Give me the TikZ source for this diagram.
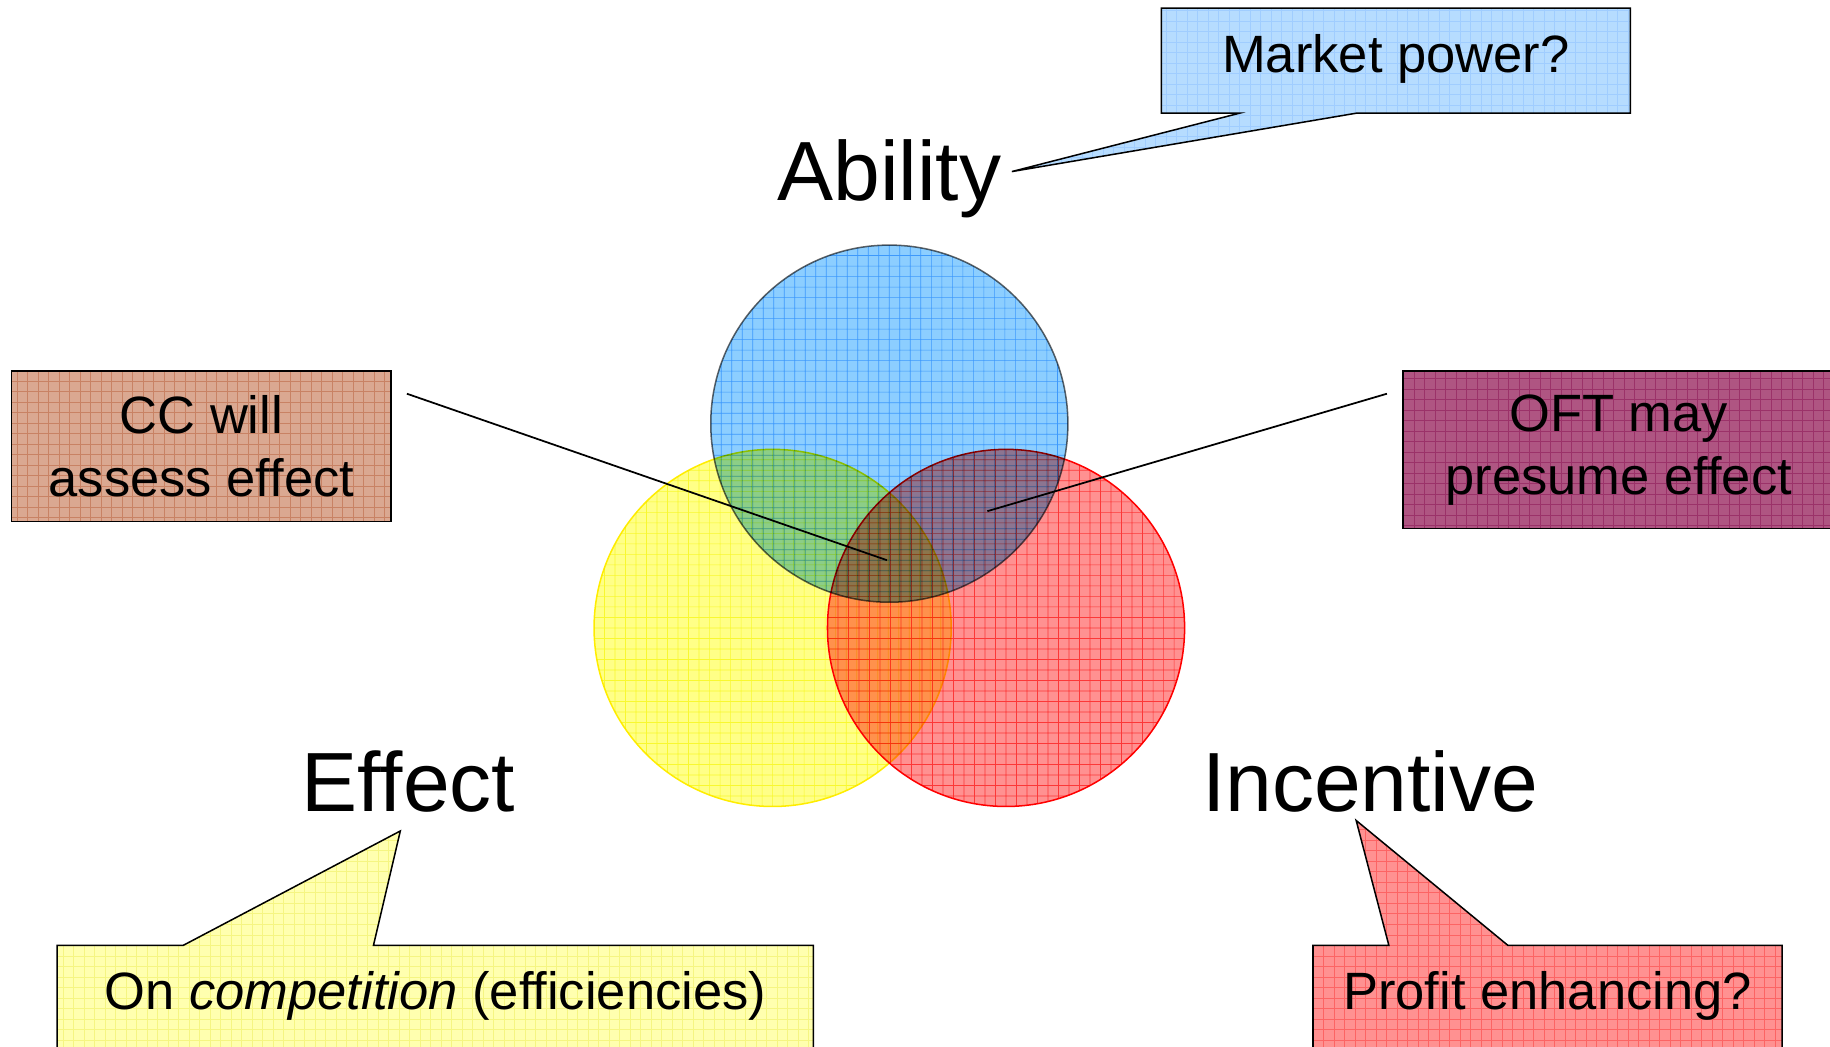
\documentclass[tikz,border=0pt]{standalone}
\usepackage{fontspec}
\setmainfont{Liberation Sans}
\usetikzlibrary{calc}
\definecolor{bluefill}{RGB}{140,206,255}
\definecolor{blueline}{RGB}{112,190,252}
\definecolor{yelfill}{RGB}{255,255,135}
\definecolor{yelline}{RGB}{248,248,90}
\definecolor{redfill}{RGB}{255,145,145}
\definecolor{redline}{RGB}{252,100,100}
\definecolor{mpfill}{RGB}{182,220,255}
\definecolor{mpline}{RGB}{160,205,255}
\definecolor{ccfill}{RGB}{218,168,145}
\definecolor{ccline}{RGB}{200,130,100}
\definecolor{oftfill}{RGB}{175,85,130}
\definecolor{oftline}{RGB}{155,50,105}
\definecolor{effill}{RGB}{255,255,175}
\definecolor{efline}{RGB}{245,245,130}
\tikzset{
  gridded/.style 2 args={fill=#1, path picture={\draw[#2, line width=0.6pt, step=9pt]
      (path picture bounding box.south west) grid (path picture bounding box.north east);}},
  venn/.style={circle, minimum size=306pt, inner sep=0pt, line width=1.3pt},
  big/.style={font=\fontsize{72}{80}\selectfont, inner sep=0pt, anchor=base},
  txt/.style={font=\fontsize{45}{54}\selectfont, inner sep=0pt, align=center},
  box/.style={draw=black, line width=1.3pt},
  link/.style={draw=black, line width=1.5pt},
}
\begin{document}
\begin{tikzpicture}[x=1pt, y=-1pt]
\useasboundingbox (0,0) rectangle (1568,897);
\clip (0,0) rectangle (1568,897);

% Venn circles
\begin{scope}[blend group=multiply]
  \node[venn, draw=black!60, gridded={bluefill}{blueline}] (abil) at (762,363) {};
  \node[venn, draw=red, gridded={redfill}{redline}] (inc) at (862,538) {};
  \node[venn, draw=yellow!95!orange, gridded={yelfill}{yelline}] (eff) at (662,538) {};
\end{scope}

% Big labels
\node[big] (ability) at (762,172) {Ability};
\node[big] (effect) at (350,695) {Effect};
\node[big] (incentive) at (1174,695) {Incentive};

% Market power callout
\path[box, gridded={mpfill}{mpline}] (995,7) -- (1397,7) -- (1397,97) -- (1162,97) -- (867,147) -- (1062,97) -- (995,97) -- cycle;
\node[txt, anchor=base] (mp) at (1196,62) {Market power?};

% Effect callout
\path[box, gridded={effill}{efline}] (49,810) -- (157,810) -- (343,712) -- (320,810) -- (697,810) -- (697,910) -- (49,910) -- cycle;
\node[txt, anchor=base] (oncomp) at (373,865) {On \textit{competition} (efficiencies)};

% Incentive callout
\path[box, gridded={redfill}{redline}] (1125,810) -- (1190,810) -- (1162,703) -- (1292,810) -- (1527,810) -- (1527,910) -- (1125,910) -- cycle;
\node[txt, anchor=base] (profit) at (1326,865) {Profit enhancing?};

% CC box
\node[txt, box, gridded={ccfill}{ccline}, minimum width=325pt, minimum height=129pt] (cc) at (172.5,382.5) {CC will\\assess effect};
% OFT box
\node[txt, box, gridded={oftfill}{oftline}, minimum width=370pt, minimum height=135pt] (oft) at (1387,385.5) {OFT may\\presume effect};

% Connectors
\coordinate (ccend) at (760,480);
\coordinate (oftend) at (846,438);
\draw[link] ($(cc.north east)+(13,20)$) -- (ccend);
\draw[link] ($(oft.north west)+(-13,20)$) -- (oftend);
\end{tikzpicture}
\end{document}
